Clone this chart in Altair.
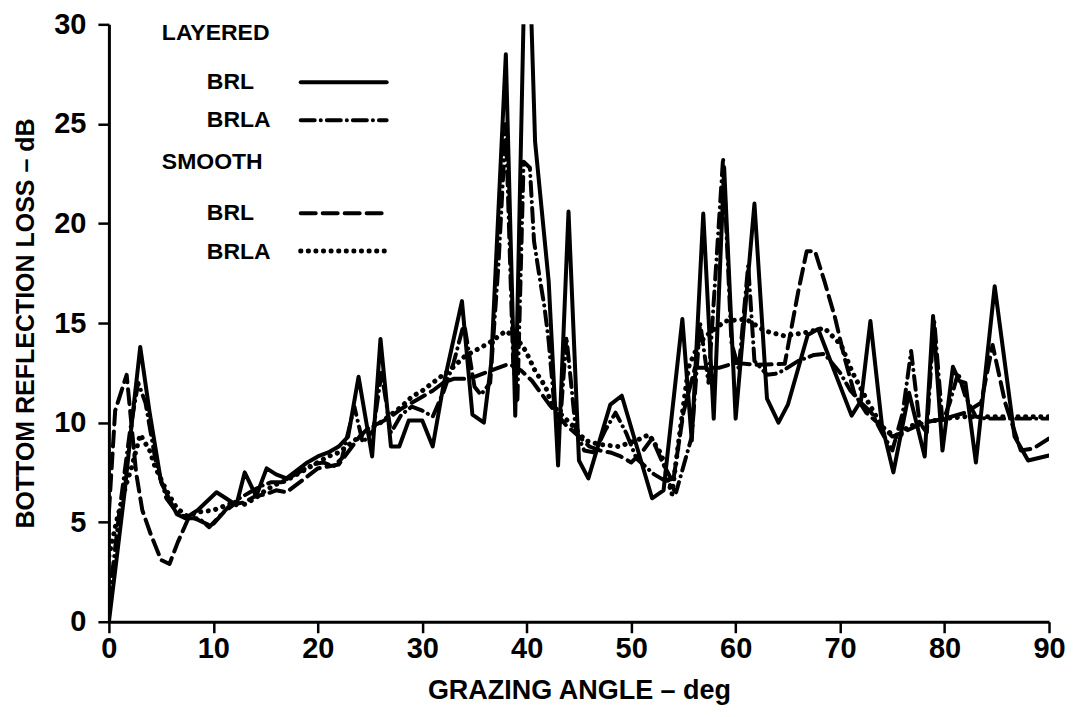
import altair as alt
import pandas as pd

# ---- data (grazing angle in deg, loss in dB) ----
layered_brl_x = [0, 0.7, 1.5, 2.3, 3.0, 3.9, 5.0, 6.5, 7.3, 8.5, 10.3, 11.2, 12.2, 13.0, 14.1, 15.1,
                 16.0, 17.0, 18.0, 19.0, 20.0, 21.0, 22.0, 22.9, 23.9, 25.2, 26.0, 27.0, 27.8, 28.7,
                 30.0, 31.0, 32.0, 33.8, 34.8, 35.9, 36.6, 38.0, 38.9, 40.0, 40.8, 42.1, 43.0, 44.0,
                 45.0, 45.9, 48.0, 49.1, 52.0, 53.1, 54.9, 55.8, 56.9, 57.9, 58.9, 60.0, 61.8, 63.0,
                 64.1, 65.0, 66.9, 67.9, 71.1, 72.0, 72.9, 74.0, 75.1, 76.6, 78.1, 78.9, 79.8, 80.8,
                 81.4, 82.0, 83.0, 84.8, 86.7, 88.0, 90.0]
layered_brl_y = [0.0, 3.0, 6.5, 10.5, 13.8, 10.5, 7.0, 5.4, 5.2, 5.6, 6.5, 6.2, 5.85, 7.5, 6.3, 7.7,
                 7.4, 7.2, 7.6, 8.0, 8.3, 8.5, 8.8, 9.3, 12.3, 8.3, 14.2, 8.8, 8.8, 10.1,
                 10.1, 8.8, 11.8, 16.1, 10.4, 10.0, 13.0, 28.5, 10.35, 37.9, 24.1, 17.1, 7.85, 20.6,
                 8.1, 7.2, 10.9, 11.35, 6.2, 6.6, 15.2, 9.1, 20.5, 10.2, 22.8, 10.2, 21.0, 11.2,
                 10.0, 10.9, 14.4, 14.7, 10.35, 11.1, 15.1, 9.9, 7.5, 11.5, 8.3, 15.35, 8.6, 12.8,
                 12.1, 12.0, 8.0, 16.85, 9.3, 8.1, 8.35]

layered_brla_x = [0, 1.0, 2.0, 2.8, 3.5, 4.5, 5.5, 6.5, 7.5, 8.6, 9.6, 11.5, 12.5, 13.5, 14.5, 15.5,
                  16.5, 17.5, 18.5, 19.5, 20.5, 21.5, 22.3, 23.5, 24.3, 25.3, 26.1, 27.0, 28.0, 29.0,
                  30.0, 31.0, 32.0, 33.0, 34.0, 35.0, 35.6, 36.5, 37.3, 38.0, 38.7, 39.1, 39.7, 40.3,
                  40.7, 41.2, 41.7, 42.1, 42.6, 43.2, 43.8, 44.7, 45.5, 46.5, 47.5, 48.5, 49.5, 50.5,
                  52.2, 53.5, 54.3, 55.8, 56.6, 57.4, 58.8, 59.6, 60.3, 61.2, 61.8, 63.0, 63.8, 64.5,
                  66.0, 67.5, 68.5, 70.0, 71.0, 72.0, 73.0, 74.0, 75.0, 76.0, 76.8, 77.6, 78.3, 79.0,
                  79.8, 80.5, 81.3, 82.0, 83.0, 84.0, 86.0, 88.0, 90.0]
layered_brla_y = [1.0, 5.5, 9.5, 12.0, 11.0, 8.0, 6.2, 5.5, 5.2, 5.2, 4.75, 5.8, 6.2, 6.5, 6.8, 7.0,
                  7.0, 7.3, 7.6, 7.9, 8.0, 7.8, 8.2, 10.8, 9.0, 9.6, 12.5, 9.5, 10.4, 10.8,
                  10.6, 10.3, 11.5, 13.0, 15.0, 11.8, 11.4, 12.0, 18.0, 25.0, 13.0, 11.0, 23.1, 22.8,
                  19.1, 17.4, 15.8, 14.1, 11.1, 10.0, 14.3, 9.6, 8.6, 8.5, 9.6, 10.5, 9.5, 8.2,
                  7.4, 7.0, 6.5, 9.3, 15.0, 12.0, 23.3, 14.0, 12.7, 17.9, 13.1, 12.4, 12.45, 12.6,
                  13.1, 13.4, 13.45, 12.5, 11.6, 11.0, 10.5, 9.5, 8.6, 10.5, 13.6, 10.0, 9.5, 15.2,
                  10.0, 11.0, 12.5, 11.3, 10.3, 10.2, 10.2, 10.2, 10.2]

smooth_brl_x = [0, 0.6, 1.7, 2.6, 3.2, 4.0, 5.0, 5.8, 6.6, 7.7, 8.6, 9.8, 11.0, 12.0, 13.0, 14.0,
                15.0, 16.0, 17.0, 18.0, 19.0, 20.0, 21.0, 22.0, 23.0, 24.0, 25.0, 26.0, 27.0, 28.0,
                29.0, 30.0, 31.0, 32.0, 33.0, 34.0, 35.0, 36.0, 37.0, 38.3, 39.5, 40.5, 42.1, 43.7,
                45.0, 46.0, 47.0, 48.0, 49.0, 50.0, 51.0, 52.0, 53.0, 54.0, 55.0, 56.1, 58.4, 60.0,
                62.0, 64.7, 66.0, 66.8, 67.6, 68.5, 69.5, 70.4, 71.4, 72.5, 74.0, 75.0, 76.0, 78.0,
                80.0, 82.0, 83.5, 84.6, 85.8, 87.3, 88.5, 90.0]
smooth_brl_y = [5.5, 10.6, 12.4, 7.5, 5.6, 4.4, 3.1, 2.9, 4.0, 5.3, 5.1, 4.8, 5.5, 5.9, 6.0, 6.3,
                6.4, 6.6, 6.5, 6.9, 7.3, 7.7, 7.8, 7.9, 8.6, 9.3, 9.8, 10.0, 10.3, 10.7,
                11.0, 11.3, 11.6, 12.0, 12.2, 12.2, 12.3, 12.5, 12.7, 12.95, 12.6, 12.1, 10.95, 9.9,
                9.3, 8.8, 8.6, 8.5, 8.3, 8.0, 8.5, 9.2, 8.0, 7.0, 10.5, 12.75, 12.75, 13.0,
                12.9, 12.95, 16.6, 18.6, 18.6, 17.1, 15.3, 13.3, 11.4, 10.5, 9.8, 9.3, 9.5, 10.0,
                10.2, 10.5, 11.0, 13.9, 11.0, 8.6, 8.7, 9.2]

smooth_brla_x = [0, 0.8, 1.6, 2.2, 3.0, 3.9, 4.4, 5.5, 6.5, 7.5, 8.5, 10.0, 11.0, 12.0, 13.0, 14.0,
                 15.0, 16.0, 17.0, 18.0, 19.0, 20.0, 21.0, 22.0, 23.0, 24.0, 25.0, 26.0, 27.0, 28.0,
                 29.0, 30.0, 31.0, 32.0, 33.0, 34.0, 35.0, 36.4, 37.2, 38.0, 39.1, 39.9, 40.8, 41.8,
                 42.4, 43.5, 44.5, 45.6, 47.0, 48.8, 50.5, 51.7, 52.9, 53.9, 54.8, 55.5, 56.5, 57.5,
                 59.0, 61.0, 62.8, 64.7, 66.5, 68.5, 70.1, 71.2, 72.5, 74.0, 75.5, 76.5, 78.0, 80.0,
                 82.0, 84.0, 86.0, 88.0, 90.0]
smooth_brla_y = [3.3, 5.2, 6.8, 7.8, 9.4, 8.6, 7.8, 6.6, 5.7, 5.3, 5.5, 5.6, 5.8, 6.0, 5.9, 6.2,
                 6.6, 6.9, 7.1, 7.4, 7.7, 8.0, 8.3, 8.5, 8.9, 9.3, 9.7, 10.0, 10.4, 10.8,
                 11.3, 11.6, 12.0, 12.4, 12.8, 13.3, 13.6, 14.0, 14.3, 14.6, 14.2, 13.6, 12.6, 11.8,
                 10.9, 10.3, 9.8, 9.1, 8.9, 8.8, 9.1, 9.4, 8.4, 6.4, 10.1, 12.8, 14.0, 14.5,
                 15.1, 15.2, 14.6, 14.35, 14.5, 14.75, 13.9, 12.5, 11.2, 9.8, 9.2, 9.8, 10.0, 10.2,
                 10.3, 10.3, 10.3, 10.3, 10.3]

x_ticks = [0, 10, 20, 30, 40, 50, 60, 70, 80, 90]
y_ticks = [0, 5, 10, 15, 20, 25, 30]

FONT = "Liberation Sans"
X = alt.Scale(domain=[0, 90], nice=False)
Y = alt.Scale(domain=[0, 30], nice=False)


def series(xs, ys):
    return pd.DataFrame({"angle": xs, "loss": ys, "i": list(range(len(xs)))})


def line(df, dash, width=4.0):
    kw = dict(color="black", strokeWidth=width, clip=True, strokeCap="round", strokeJoin="round")
    if dash:
        kw["strokeDash"] = dash
    return alt.Chart(df).mark_line(**kw).encode(
        x=alt.X("angle:Q", scale=X,
                axis=alt.Axis(values=x_ticks, title="GRAZING ANGLE \u2013 deg", format="d",
                              titleFontSize=27, titlePadding=14)),
        y=alt.Y("loss:Q", scale=Y,
                axis=alt.Axis(values=y_ticks, title="BOTTOM REFLECTION LOSS \u2013 dB", format="d",
                              titleFontSize=25, titlePadding=15)),
        order="i:Q",
    )


lines = [
    line(series(smooth_brla_x, smooth_brla_y), [0.1, 7.5], 5.0),
    line(series(smooth_brl_x, smooth_brl_y), [15, 7]),
    line(series(layered_brla_x, layered_brla_y), [14, 6, 0.1, 6]),
    line(series(layered_brl_x, layered_brl_y), None),
]

# ---- hand-drawn legend (pixel positions inside the plot area) ----
legend_text = []
for label, px, py in [("LAYERED", 53, 9), ("BRL", 98, 58), ("BRLA", 98, 96),
                      ("SMOOTH", 53, 138), ("BRL", 98, 189), ("BRLA", 98, 228)]:
    legend_text.append(
        alt.Chart(pd.DataFrame({"t": [label]})).mark_text(
            align="left", baseline="middle", font=FONT, fontWeight="bold", fontSize=23, color="black"
        ).encode(x=alt.value(px), y=alt.value(py), text="t:N")
    )

legend_lines = []
for py, dash, w in [(58, None, 4.0), (96, [14, 6, 0.1, 6], 4.0), (189, [15, 7], 4.0), (227, [0.1, 7.5], 5.0)]:
    kw = dict(color="black", strokeWidth=w, strokeCap="round")
    if dash:
        kw["strokeDash"] = dash
    legend_lines.append(
        alt.Chart(pd.DataFrame({"a": [0]})).mark_rule(**kw).encode(
            x=alt.value(192), x2=alt.value(278), y=alt.value(py)
        )
    )

chart = alt.layer(*lines, *legend_lines, *legend_text).properties(
    width=941, height=598,
    autosize=alt.AutoSizeParams(type="none"),
    padding={"left": 101, "top": 16, "right": 20, "bottom": 94},
).configure_view(stroke=None).configure_axis(
    grid=False,
    domainColor="black", domainWidth=3,
    tickColor="black", tickWidth=2.5, tickSize=11,
    labelFont=FONT, labelFontWeight="bold", labelFontSize=29, labelColor="black",
    titleFont=FONT, titleFontWeight="bold", titleColor="black",
).configure_axisX(labelPadding=2, labelFlush=False
).configure_axisY(labelPadding=12)

chart.save("out.html", embed_options={"renderer": "svg", "actions": False})
